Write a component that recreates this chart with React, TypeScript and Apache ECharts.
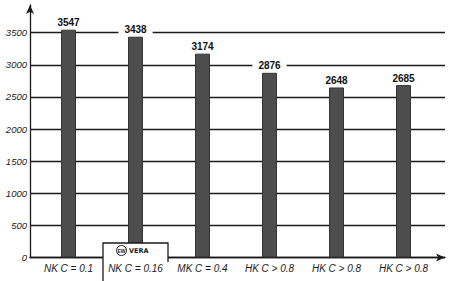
import React, { useEffect, useRef } from "react";
import * as echarts from "echarts";

const categories = ["NK C = 0.1", "NK C = 0.16", "MK C = 0.4", "HK C > 0.8", "HK C > 0.8", "HK C > 0.8"];
const values = [3547, 3438, 3174, 2876, 2648, 2685];
const yMax = 3932;

export default function App() {
  const ref = useRef<HTMLDivElement>(null);
  useEffect(() => {
    const chart = echarts.init(ref.current!, null, { renderer: "svg" });
    const splitColors = ["#1a1a1a", "#1a1a1a", "#1a1a1a", "#1a1a1a", "#1a1a1a", "#1a1a1a", "#1a1a1a", "#1a1a1a", "rgba(0,0,0,0)"];
    chart.setOption({
      animation: false,
      backgroundColor: "#ffffff",
      grid: [
        { left: 35, top: 5, width: 402, height: 252.5 },
        { left: 30, top: 5, width: 415, height: 252.5 },
      ],
      xAxis: [
        {
          type: "category",
          gridIndex: 0,
          data: categories,
          z: 10,
          axisLine: { show: false },
          axisTick: { show: false },
          axisLabel: {
            margin: 6,
            fontFamily: "Liberation Sans",
            fontStyle: "italic",
            fontSize: 10,
            color: "#1a1a1a",
            interval: 0,
          },
        },
        {
          type: "value",
          gridIndex: 1,
          min: 0,
          max: 1,
          axisLine: {
            show: true,
            symbol: ["none", "arrow"],
            symbolSize: [6, 9],
            lineStyle: { color: "#1a1a1a", width: 1.3 },
          },
          axisTick: { show: false },
          axisLabel: { show: false },
          splitLine: { show: false },
        },
      ],
      yAxis: [
        {
          type: "value",
          gridIndex: 0,
          min: 0,
          max: yMax,
          show: false,
          splitLine: { show: false },
        },
        {
          type: "value",
          gridIndex: 1,
          min: 0,
          max: yMax,
          interval: 500,
          axisLine: {
            show: true,
            symbol: ["none", "arrow"],
            symbolSize: [6, 9],
            lineStyle: { color: "#1a1a1a", width: 1.3 },
          },
          axisTick: { show: false },
          axisLabel: {
            showMaxLabel: false,
            margin: 3,
            fontFamily: "Liberation Sans",
            fontStyle: "italic",
            fontSize: 9.5,
            color: "#1a1a1a",
            formatter: (v: number) => String(v),
          },
          splitLine: { show: true, lineStyle: { color: splitColors, width: 1.3 } },
        },
      ],
      series: [
        {
          type: "bar",
          xAxisIndex: 0,
          yAxisIndex: 0,
          data: values,
          barWidth: 15,
          z: 3,
          itemStyle: { color: "#4d4d4d", borderColor: "#333333", borderWidth: 1 },
          label: {
            show: true,
            position: "top",
            distance: 1,
            fontFamily: "Liberation Sans",
            fontWeight: "bold",
            fontSize: 10,
            color: "#111111",
            backgroundColor: "#ffffff",
            padding: [1, 6, 1, 6],
          },
        },
      ],
      graphic: [
        {
          type: "rect",
          z: 5,
          shape: { x: 103, y: 243, width: 65, height: 45 },
          style: { fill: "#ffffff" },
        },
        {
          type: "polyline",
          z: 6,
          shape: { points: [[103, 285], [103, 243], [168, 243], [168, 262]] },
          style: { stroke: "#1a1a1a", lineWidth: 1.3, fill: null },
        },
        {
          type: "circle",
          z: 6,
          shape: { cx: 121.5, cy: 250.5, r: 5 },
          style: { fill: "#ffffff", stroke: "#222222", lineWidth: 1 },
        },
        {
          type: "text",
          z: 7,
          x: 121.5,
          y: 250.8,
          style: {
            text: "EW",
            fontFamily: "Liberation Sans",
            fontWeight: "bold",
            fontSize: 5,
            fill: "#222222",
            align: "center",
            verticalAlign: "middle",
          },
        },
        {
          type: "text",
          z: 7,
          x: 129,
          y: 251,
          style: {
            text: "VERA",
            fontFamily: "DejaVu Sans",
            fontWeight: "bold",
            fontSize: 6.5,
            fill: "#222222",
            align: "left",
            verticalAlign: "middle",
          },
        },
      ],
    });
    return () => chart.dispose();
  }, []);
  return <div ref={ref} style={{ width: 450, height: 281, position: "absolute", left: 0, top: 0 }} />;
}
